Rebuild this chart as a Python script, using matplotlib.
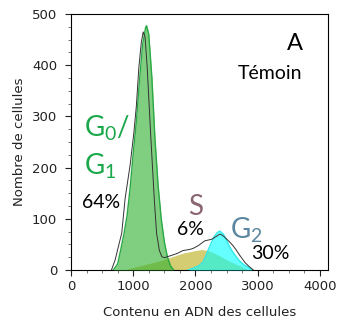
import matplotlib
matplotlib.use("Agg")
import matplotlib.pyplot as plt
from matplotlib.ticker import MultipleLocator

plt.rcParams["mathtext.fontset"] = "custom"
plt.rcParams["mathtext.rm"] = "Lato"
plt.rcParams["mathtext.it"] = "Lato"

# --- donnees (contenu en ADN, nombre de cellules) ---

# pic G0/G1 (vert)
g1_x = [680, 750, 800, 850, 900, 950, 1000, 1050, 1100, 1150, 1200, 1215,
        1250, 1300, 1350, 1400, 1450, 1500, 1550, 1600, 1650]
g1_y = [0, 12, 40, 70, 105, 160, 228, 290, 370, 440, 474, 477,
        460, 375, 255, 165, 100, 55, 25, 8, 0]

# phase S (jaune)
s_x = [850, 1000, 1200, 1400, 1600, 1800, 2000, 2100, 2200, 2300, 2400,
       2500, 2600, 2700, 2800, 2850]
s_y = [0, 5, 11, 17, 25, 33, 38, 40, 38, 33, 27, 20, 14, 9, 3, 0]

# pic G2 (cyan)
g2_x = [1880, 1950, 2050, 2125, 2200, 2250, 2300, 2350, 2392, 2450, 2500,
        2550, 2600, 2690, 2780, 2870, 2910]
g2_y = [0, 3, 8, 16, 38, 52, 65, 73, 76, 70, 58, 45, 35, 20, 10, 4, 0]

# histogramme total (contour noir)
tot_x = [650, 710, 760, 815, 870, 950, 1010, 1050, 1090, 1130, 1160, 1190,
         1225, 1280, 1340, 1375, 1420, 1460, 1500, 1600, 1700, 1800, 1900,
         1960, 2050, 2150, 2260, 2340, 2390, 2430, 2470, 2540, 2600, 2650,
         2710, 2800, 2870, 2930]
tot_y = [0, 20, 45, 72, 140, 205, 268, 320, 395, 445, 465, 455,
         395, 265, 135, 72, 38, 26, 24, 28, 32, 38, 40, 42, 48, 57, 60,
         66, 70, 68, 64, 56, 48, 40, 29, 14, 6, 0]

xticks = [0, 1000, 2000, 3000, 4000]
yticks = [0, 100, 200, 300, 400, 500]

fig = plt.figure(figsize=(3.42, 3.29), dpi=100)
ax = fig.add_axes([0.2076, 0.1793, 0.7515, 0.7781])

# phase S opaque en dessous, les pics G1 et G2 semi-transparents par-dessus
ax.fill_between(s_x, s_y, color="#d4cd72", lw=0, zorder=2)
ax.fill_between(g1_x, g1_y, color="#33b233", alpha=0.62, lw=0, zorder=3)
ax.plot(g1_x, g1_y, color="#2aa844", lw=1.0, zorder=4)
ax.fill_between(g2_x, g2_y, color="#00ffff", alpha=0.6, lw=0, zorder=3)
ax.plot(g2_x, g2_y, color="#30e8e8", lw=1.0, zorder=4)
ax.plot(tot_x, tot_y, color="#333333", lw=0.7, zorder=5)

ax.set_xlim(0, 4130)
ax.set_ylim(0, 500)
ax.set_xticks(xticks)
ax.set_yticks(yticks)
ax.xaxis.set_minor_locator(MultipleLocator(250))
ax.yaxis.set_minor_locator(MultipleLocator(25))
ax.tick_params(which="major", length=4, width=0.8, labelsize=9.5, colors="#222222")
ax.tick_params(axis="y", which="major", pad=6)
ax.tick_params(which="minor", length=2.5, width=0.6, color="#666666")

ax.set_xlabel("Contenu en ADN des cellules", fontsize=9.5, color="#222222", labelpad=9)
ax.set_ylabel("Nombre de cellules", fontsize=9.5, color="#222222", labelpad=4)

txt = dict(family="Lato", transform=ax.transData)
ax.text(3595, 443, "A", fontsize=17, ha="center", va="center", **txt)
ax.text(3195, 383, "Témoin", fontsize=14, ha="center", va="center", **txt)
ax.text(215, 277, "G$_0$/", fontsize=20, color="#1aa84a", ha="left", va="center", **txt)
ax.text(215, 203, "G$_1$", fontsize=20, color="#1aa84a", ha="left", va="center", **txt)
ax.text(490, 131, "64%", fontsize=14, ha="center", va="center", **txt)
ax.text(2000, 123, "S", fontsize=20, color="#8a6670", ha="center", va="center", **txt)
ax.text(1918, 80, "6%", fontsize=14, ha="center", va="center", **txt)
ax.text(2810, 78, "G$_2$", fontsize=20, color="#5a86a0", ha="center", va="center", **txt)
ax.text(3200, 33, "30%", fontsize=14, ha="center", va="center", **txt)

fig.savefig("out.png", dpi=100)
